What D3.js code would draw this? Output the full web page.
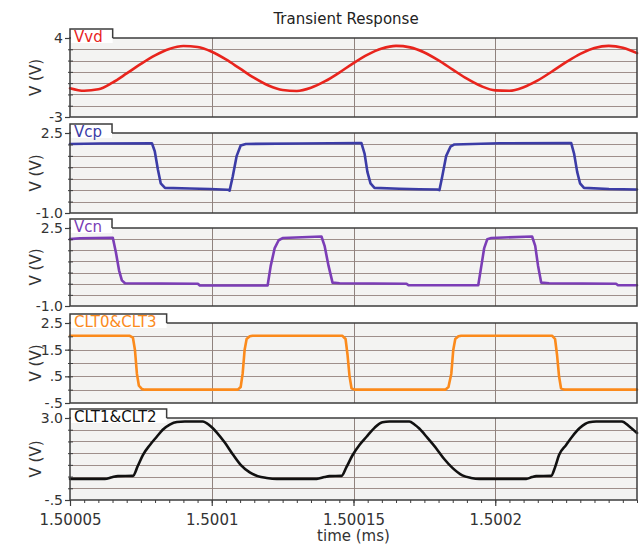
<!DOCTYPE html>
<html><head><meta charset="utf-8">
<script src="https://cdn.jsdelivr.net/npm/d3@7"></script>
<style>body{margin:0;background:#fff}svg{display:block;font-family:"DejaVu Sans",Verdana,sans-serif}</style>
</head><body>
<script>
// ---------- DATA ----------
const titleText = "Transient Response";
const xLabelText = "time (ms)";
const yLabelText = "V (V)";
const xDomain = [1.50005, 1.50025];
const xMajorTicks = [1.50005, 1.5001, 1.50015, 1.5002];
const xMajorLabels = ["1.50005", "1.5001", "1.50015", "1.5002"];

const seriesNames = ["Vvd", "Vcp", "Vcn", "CLT0&CLT3", "CLT1&CLT2"];

const vvdTime = [1.50005,1.500055,1.50006,1.500065,1.50007,1.500075,1.50008,1.500085,1.50009,1.500095,1.5001,1.500105,1.50011,1.500115,1.50012,1.500125,1.50013,1.500135,1.50014,1.500145,1.50015,1.500155,1.50016,1.500165,1.50017,1.500175,1.50018,1.500185,1.50019,1.500195,1.5002,1.500205,1.50021,1.500215,1.50022,1.500225,1.50023,1.500235,1.50024,1.500245,1.50025];
const vvdValue = [-0.45,-0.68,-0.55,0.05,0.86,1.70,2.46,3.03,3.29,3.20,2.78,2.10,1.28,0.46,-0.21,-0.61,-0.69,-0.41,0.17,0.94,1.78,2.53,3.07,3.30,3.17,2.72,2.02,1.20,0.39,-0.26,-0.64,-0.67,-0.36,0.24,1.03,1.86,2.60,3.11,3.30,3.14,2.66];

const vcpTime = [1.50005,1.5000606,1.5000789,1.5000799,1.5000810,1.5000820,1.5000835,1.5000923,1.5000993,1.5001056,1.5001063,1.5001074,1.5001088,1.5001102,1.5001120,1.5001310,1.5001528,1.5001539,1.5001549,1.5001560,1.5001574,1.5001662,1.5001732,1.5001796,1.5001803,1.5001813,1.5001827,1.5001842,1.5001856,1.5002014,1.5002268,1.5002278,1.5002289,1.5002299,1.5002313,1.5002401,1.50025];
const vcpValue = [2.02,2.04,2.05,1.7,0.9,0.3,0.1,0.07,0.05,0.02,-0.02,0.6,1.5,1.95,2.02,2.04,2.06,1.6,0.8,0.3,0.1,0.06,0.04,0.03,0.0,0.6,1.5,1.9,2.0,2.05,2.06,1.6,0.8,0.3,0.1,0.05,0.03];

const vcnTime = [1.50005,1.5000535,1.5000651,1.5000662,1.5000673,1.5000683,1.5000694,1.5000951,1.5000958,1.5001197,1.5001208,1.5001222,1.5001236,1.5001250,1.5001387,1.5001398,1.5001412,1.5001426,1.5001451,1.5001687,1.5001694,1.5001940,1.5001951,1.5001961,1.5001972,1.5001986,1.5002130,1.5002141,1.5002151,1.5002162,1.5002190,1.5002426,1.5002433,1.50025];
const vcnValue = [2.0,2.04,2.06,1.4,0.6,0.15,0.02,0.0,-0.08,-0.08,0.8,1.6,1.95,2.05,2.12,1.7,0.8,0.05,0.02,0.0,-0.07,-0.07,0.8,1.6,2.0,2.05,2.12,1.7,0.8,0.05,0.02,0.0,-0.07,-0.07];

const clt03Time = [1.50005,1.5000711,1.5000722,1.5000729,1.5000736,1.5000743,1.5000754,1.5000764,1.5001092,1.5001102,1.5001109,1.5001116,1.5001123,1.5001134,1.5001144,1.5001461,1.5001472,1.5001479,1.5001486,1.5001493,1.5001504,1.5001824,1.5001835,1.5001845,1.5001852,1.5001859,1.5001870,1.5001880,1.5002201,1.5002211,1.5002218,1.5002225,1.5002232,1.5002243,1.50025];
const clt03Value = [2.02,2.02,1.95,1.5,0.6,0.15,0.02,0.0,0.0,0.1,0.6,1.5,1.9,2.0,2.02,2.02,1.9,1.3,0.5,0.05,0.0,0.0,0.1,0.6,1.5,1.9,2.0,2.02,2.02,1.9,1.3,0.5,0.05,0.0,0.0];

const clt12Time = [1.50005,1.5000623,1.5000648,1.5000669,1.5000722,1.5000739,1.5000757,1.5000782,1.5000806,1.5000827,1.5000852,1.5000877,1.5000905,1.5000968,1.5000993,1.5001018,1.5001046,1.5001074,1.5001102,1.5001134,1.5001162,1.5001194,1.5001229,1.5001370,1.5001398,1.5001415,1.5001458,1.5001475,1.5001496,1.5001521,1.5001546,1.5001574,1.5001602,1.5001627,1.5001697,1.5001715,1.5001732,1.5001761,1.5001792,1.5001820,1.5001849,1.5001884,1.5001915,1.5001944,1.5002109,1.5002130,1.5002144,1.5002197,1.5002211,1.5002225,1.5002250,1.5002271,1.5002299,1.5002331,1.5002356,1.5002447,1.5002472,1.50025];
const clt12Value = [0.40,0.40,0.47,0.52,0.53,0.95,1.42,1.85,2.2,2.5,2.72,2.83,2.85,2.85,2.68,2.38,1.95,1.45,1.0,0.68,0.52,0.44,0.40,0.40,0.48,0.52,0.53,0.9,1.4,1.85,2.2,2.58,2.82,2.85,2.85,2.72,2.55,2.15,1.7,1.25,0.87,0.55,0.44,0.40,0.40,0.48,0.52,0.53,0.9,1.42,1.85,2.2,2.58,2.82,2.85,2.85,2.65,2.36];

const yDomains = [[-3,4],[-1,2.5],[-1,2.5],[-0.5,2.5],[-0.5,3]];
const yGrids = [[-2,-1,0,1,2,3],[-0.5,0,0.5,1,1.5,2],[-0.5,0,0.5,1,1.5,2],[0,0.5,1,1.5,2],[0,0.5,1,1.5,2,2.5]];
const yTickValues = [[4,-3],[2.5,-1],[2.5,-1],[2.5,1.5,0.5,-0.5],[3,-0.5]];
const yTickLabels = [["4","-3"],["2.5","-1.0"],["2.5","-1.0"],["2.5","1.5",".5","-.5"],["3.0","-.5"]];

// ---------- STYLE / LAYOUT ----------
const colors = ["#e8241d","#3b3ca6","#7b3db6","#fb8a1c","#111111"];
const curves = [d3.curveMonotoneX, d3.curveLinear, d3.curveLinear, d3.curveLinear, d3.curveMonotoneX];
const panelTops = [38, 133, 228, 323, 418];
const panelH = [79, 80, 78, 80, 82];
const L = 70, R = 637;
const W = 640, H = 546;

const times = [vvdTime, vcpTime, vcnTime, clt03Time, clt12Time];
const values = [vvdValue, vcpValue, vcnValue, clt03Value, clt12Value];

const svg = d3.select("body").append("svg").attr("width", W).attr("height", H);
const x = d3.scaleLinear().domain(xDomain).range([L, R]);

svg.append("text").attr("x", 346).attr("y", 24).attr("text-anchor", "middle")
  .attr("font-size", 15).attr("fill", "#222").text(titleText);

seriesNames.forEach((name, i) => {
  const top = panelTops[i], h = panelH[i], bottom = top + h;
  const y = d3.scaleLinear().domain(yDomains[i]).range([bottom, top]);
  const g = svg.append("g");

  g.append("rect").attr("x", L).attr("y", top).attr("width", R - L).attr("height", h).attr("fill", "#f3f3f2");

  g.selectAll(".hg").data(yGrids[i]).join("line")
    .attr("x1", L).attr("x2", R).attr("y1", d => Math.round(y(d)) + 0.5).attr("y2", d => Math.round(y(d)) + 0.5)
    .attr("stroke", "#9e8f8b").attr("stroke-width", 1);
  g.selectAll(".vg").data(xMajorTicks.slice(1)).join("line")
    .attr("x1", d => Math.round(x(d)) + 0.5).attr("x2", d => Math.round(x(d)) + 0.5).attr("y1", top).attr("y2", bottom)
    .attr("stroke", "#8f827e").attr("stroke-width", 1);

  const pts = times[i].map((t, k) => [t, values[i][k]]);
  g.append("path").datum(pts)
    .attr("d", d3.line().x(d => x(d[0])).y(d => y(d[1])).curve(curves[i]))
    .attr("fill", "none").attr("stroke", colors[i]).attr("stroke-width", 2.6)
    .attr("stroke-linejoin", "round").attr("stroke-linecap", "round");

  g.append("rect").attr("x", L).attr("y", top).attr("width", R - L).attr("height", h)
    .attr("fill", "none").attr("stroke", "#3d3d3d").attr("stroke-width", 1.5);

  // tab label
  const txt = g.append("text").attr("x", L + 4).attr("y", top + 4).attr("font-size", 15)
    .attr("fill", colors[i]).text(name);
  const tw = Math.max(40, txt.node().getComputedTextLength() + 14);
  g.insert("rect", "text").attr("x", L + 1).attr("y", top - 9).attr("width", tw - 1).attr("height", 14).attr("fill", "#fff");
  g.append("path").attr("d", `M${L},${top} V${top - 9} H${L + tw} V${top}`)
    .attr("fill", "none").attr("stroke", "#3d3d3d").attr("stroke-width", 1.5);
  txt.raise();

  // y axis: minor ticks
  const minor = g.append("g").attr("transform", `translate(${L + 3},0)`)
    .call(d3.axisLeft(y).tickValues(yGrids[i]).tickSize(5).tickFormat(""));
  minor.select(".domain").remove();
  minor.selectAll("line").attr("stroke", "#3d3d3d");
  // y axis: labelled ticks
  const major = g.append("g").attr("transform", `translate(${L},0)`)
    .call(d3.axisLeft(y).tickValues(yTickValues[i]).tickSize(5).tickPadding(2)
      .tickFormat((d, k) => yTickLabels[i][k]));
  major.select(".domain").remove();
  major.selectAll("line").attr("stroke", "#3d3d3d").attr("stroke-width", 1.2);
  major.selectAll("text").attr("font-size", 14).attr("fill", "#333").attr("font-family", "DejaVu Sans");

  g.append("text").attr("transform", `translate(41,${top + h / 2}) rotate(-90)`)
    .attr("text-anchor", "middle").attr("font-size", 15).attr("fill", "#333").text(yLabelText);

  if (i === seriesNames.length - 1) {
    const minX = g.append("g").attr("transform", `translate(0,${bottom})`)
      .call(d3.axisBottom(x).ticks(40).tickSize(3).tickFormat(""));
    minX.select(".domain").remove();
    minX.selectAll("line").attr("stroke", "#3d3d3d");
    const majX = g.append("g").attr("transform", `translate(0,${bottom})`)
      .call(d3.axisBottom(x).tickValues(xMajorTicks).tickSize(6).tickPadding(8)
        .tickFormat((d, k) => xMajorLabels[k]));
    majX.select(".domain").remove();
    majX.selectAll("line").attr("stroke", "#3d3d3d").attr("stroke-width", 1.2);
    majX.selectAll("text").attr("font-size", 15).attr("fill", "#333").attr("font-family", "DejaVu Sans");
    g.append("text").attr("x", (L + R) / 2).attr("y", 541).attr("text-anchor", "middle")
      .attr("font-size", 15).attr("fill", "#333").text(xLabelText);
  }
});
</script>
</body></html>
